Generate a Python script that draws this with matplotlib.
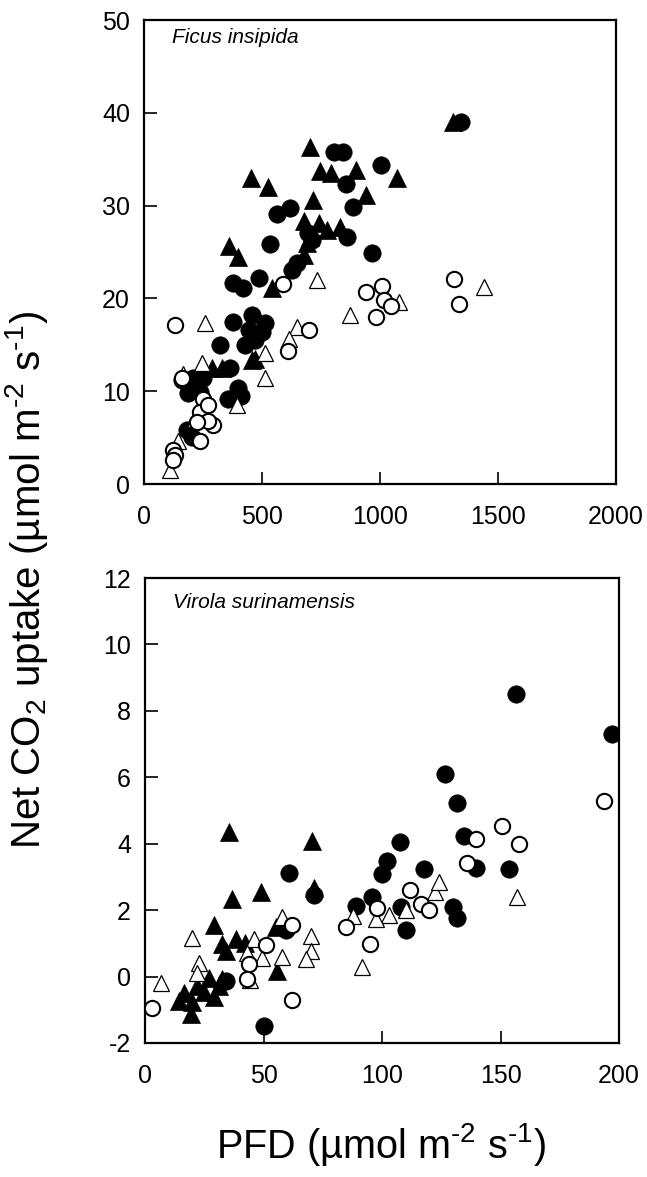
import matplotlib
matplotlib.use("Agg")
import matplotlib.pyplot as plt

plt.rcParams['font.family'] = ['Liberation Sans', 'DejaVu Sans']
plt.rcParams['mathtext.fontset'] = 'custom'
plt.rcParams['mathtext.rm'] = 'Liberation Sans'
plt.rcParams['mathtext.it'] = 'Liberation Sans:italic'
plt.rcParams['axes.unicode_minus'] = False

# ---------------- Ficus insipida (top panel) ----------------
top_title = "Ficus insipida"
top_xticks = [0, 500, 1000, 1500, 2000]
top_yticks = [0, 10, 20, 30, 40, 50]

top_fc_x = [1345, 1004, 966, 803, 845, 856, 885, 563, 619, 860, 711, 695, 535, 648, 627,
            379, 421, 488, 379, 457, 513, 499, 443, 428, 470, 322, 365, 160, 185, 209,
            252, 400, 358, 410, 238, 181, 202]
top_fc_y = [39.0, 34.4, 24.9, 35.8, 35.8, 32.3, 29.9, 29.1, 29.7, 26.6, 26.3, 27.0, 25.9, 23.8, 23.1,
            21.7, 21.1, 22.2, 17.5, 18.2, 17.3, 16.4, 16.6, 15.0, 15.5, 15.0, 12.5, 11.2, 9.8, 11.4,
            11.4, 10.3, 9.2, 9.5, 9.9, 5.8, 5.1]

top_ft_x = [1310, 1072, 704, 747, 792, 900, 454, 525, 942, 716, 680, 742, 775, 831, 704,
            362, 400, 680, 542, 471, 457, 287, 329, 690]
top_ft_y = [39.0, 33.0, 36.3, 33.7, 33.5, 33.8, 33.0, 32.0, 31.1, 30.6, 28.3, 28.1, 27.4, 27.7, 26.6,
            25.6, 24.5, 24.7, 21.1, 13.5, 13.4, 12.5, 12.5, 26.0]

top_oc_x = [1312, 1334, 1008, 1015, 1047, 984, 940, 591, 132, 700, 610, 160, 252, 238,
            294, 272, 223, 238, 124, 132, 124, 270]
top_oc_y = [22.1, 19.4, 21.3, 19.8, 19.2, 18.0, 20.7, 21.6, 17.1, 16.6, 14.3, 11.4, 9.2, 7.8,
            6.4, 6.8, 6.7, 4.6, 3.7, 3.1, 2.6, 8.5]

top_ot_x = [1440, 1079, 733, 259, 513, 513, 648, 616, 874, 245, 393, 146, 110, 165, 255, 215]
top_ot_y = [21.2, 19.6, 22.0, 17.4, 14.1, 11.4, 16.9, 15.6, 18.2, 13.0, 8.5, 4.6, 1.5, 11.9, 7.5, 7.0]

# ---------------- Virola surinamensis (bottom panel) ----------------
bot_title = "Virola surinamensis"
bot_xticks = [0, 50, 100, 150, 200]
bot_yticks = [-2, 0, 2, 4, 6, 8, 10, 12]

bot_fc_x = [156.4, 197.2, 126.6, 131.8, 134.6, 107.5, 102.2, 117.7, 139.5, 153.6, 100.0, 95.6,
            88.9, 108.0, 110.0, 130.0, 131.5, 60.8, 71.3, 59.3, 34.0, 50.2]
bot_fc_y = [8.50, 7.30, 6.09, 5.24, 4.24, 4.04, 3.48, 3.23, 3.28, 3.23, 3.10, 2.41,
            2.13, 2.10, 1.40, 2.10, 1.75, 3.13, 2.45, 1.40, -0.13, -1.49]

bot_ft_x = [35.4, 70.3, 71.3, 48.8, 36.8, 29.1, 55.1, 32.6, 38.3, 34.0, 42.0, 55.8, 27.0,
            22.1, 16.5, 20.0, 31.2, 32.6, 14.3, 19.3, 25.0, 29.0]
bot_ft_y = [4.34, 4.08, 2.68, 2.55, 2.33, 1.55, 1.48, 0.97, 1.12, 0.77, 1.00, 0.17, -0.03,
            -0.28, -0.48, -0.78, -0.28, -0.08, -0.73, -1.14, -0.45, -0.60]

bot_oc_x = [193.7, 150.8, 139.8, 157.8, 136.0, 112.0, 116.5, 120.0, 84.7, 94.8, 62.1, 50.9,
            43.9, 43.2, 61.9, 3.1, 98.0]
bot_oc_y = [5.29, 4.54, 4.14, 3.98, 3.43, 2.60, 2.20, 2.00, 1.48, 0.97, 1.55, 0.94,
            0.37, -0.06, -0.70, -0.96, 2.05]

bot_ot_x = [157.0, 122.5, 124.0, 103.0, 110.0, 87.8, 91.7, 97.3, 20.0, 57.6, 46.0, 43.2,
            49.5, 57.9, 69.9, 69.9, 67.8, 22.8, 6.9, 44.5, 22.0]
bot_ot_y = [2.40, 2.55, 2.85, 1.85, 2.00, 1.81, 0.29, 1.73, 1.15, 1.78, 1.12, 0.72,
            0.57, 0.60, 1.22, 0.77, 0.52, 0.42, -0.20, -0.10, 0.10]

xlabel = r"PFD (µmol m$^{\text{-2}}$ s$^{\text{-1}}$)"
ylabel = r"Net CO$_{\text{2}}$ uptake (µmol m$^{\text{-2}}$ s$^{\text{-1}}$)"

W, H = 647, 1177
fig = plt.figure(figsize=(W / 100, H / 100), dpi=100)
ax1 = fig.add_axes([144 / W, 1 - 484 / H, 472 / W, 464 / H])
ax2 = fig.add_axes([145 / W, 1 - 1043 / H, 474 / W, 465 / H])

MS = 12.5


def draw(ax, fcx, fcy, ftx, fty, ocx, ocy, otx, oty):
    ax.plot(ftx, fty, linestyle='none', marker='^', ms=MS, mfc='black', mec='black', mew=0.5, zorder=3)
    ax.plot(fcx, fcy, linestyle='none', marker='o', ms=MS, mfc='black', mec='black', mew=0.5, zorder=3)
    ax.plot(otx, oty, linestyle='none', marker='^', ms=MS - 0.5, mfc='white', mec='black', mew=0.9, zorder=4)
    ax.plot(ocx, ocy, linestyle='none', marker='o', ms=MS - 1.5, mfc='white', mec='black', mew=1.5, zorder=4)


def style(ax, xticks, yticks, title, ty):
    ax.set_xlim(xticks[0], xticks[-1])
    ax.set_ylim(yticks[0], yticks[-1])
    ax.set_xticks(xticks)
    ax.set_yticks(yticks)
    ax.tick_params(direction='in', length=9, width=1.2, labelsize=18,
                   top=False, right=False)
    ax.tick_params(axis='x', pad=15)
    ax.tick_params(axis='y', pad=10)
    for s in ax.spines.values():
        s.set_linewidth(1.6)
    ax.text(0.06, ty, title, transform=ax.transAxes, fontsize=15, style='italic',
            ha='left', va='center')


draw(ax1, top_fc_x, top_fc_y, top_ft_x, top_ft_y, top_oc_x, top_oc_y, top_ot_x, top_ot_y)
style(ax1, top_xticks, top_yticks, top_title, 0.962)
draw(ax2, bot_fc_x, bot_fc_y, bot_ft_x, bot_ft_y, bot_oc_x, bot_oc_y, bot_ot_x, bot_ot_y)
style(ax2, bot_xticks, bot_yticks, bot_title, 0.948)

fig.text(381 / W, 1 - 1144 / H, xlabel, ha='center', va='center', fontsize=28.5)
fig.text(27 / W, 1 - 580 / H, ylabel, ha='center', va='center', rotation=90, fontsize=29)

fig.savefig("out.png", dpi=100)
